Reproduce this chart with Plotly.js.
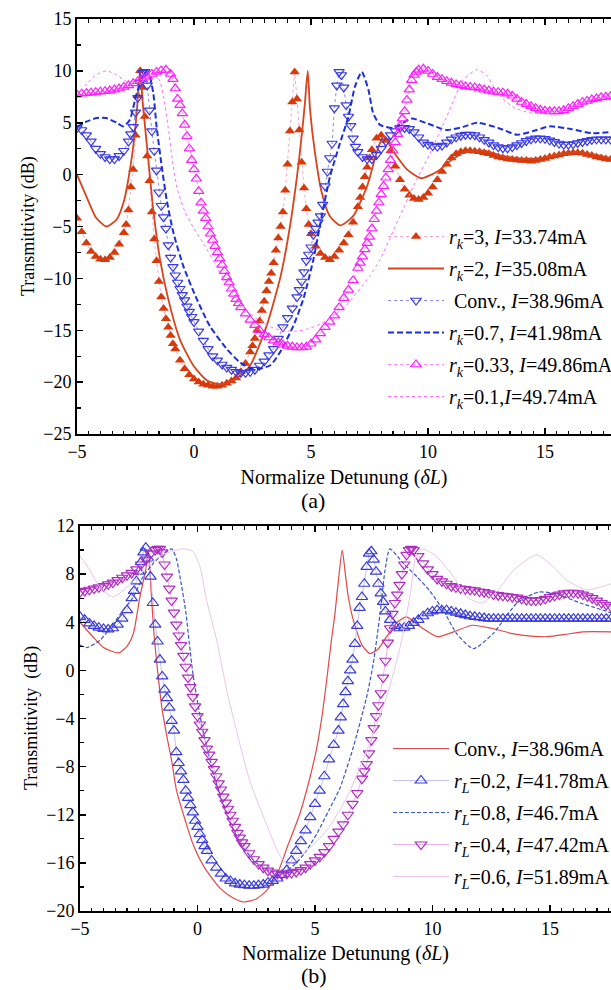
<!DOCTYPE html>
<html>
<head>
<meta charset="utf-8">
<script src="https://cdn.plot.ly/plotly-3.0.1.min.js"></script>
<style>html,body{margin:0;padding:0;background:#fff}#chart{width:611px;height:990px}</style>
</head>
<body>
<div id="chart"></div>
<script>
// ---------- Panel (a) data : [normalized detuning, transmittivity dB] ----------
const rk3 = [[-5,-4.2],[-4.8,-5.5],[-4.6,-6.6],[-4.4,-7.4],[-4.2,-7.9],[-4,-8.15],[-3.8,-8.2],[-3.6,-8.0],[-3.4,-7.5],[-3.2,-6.7],[-3,-5.6],[-2.9,-4.8],[-2.8,-3.4],[-2.7,-1.2],[-2.6,0.5],[-2.5,3.8],[-2.4,7.6],[-2.3,10.0],[-2.2,8.4],[-2.1,5.6],[-2,1.8],[-1.9,-0.6],[-1.8,-3.6],[-1.7,-6.2],[-1.6,-8.3],[-1.5,-10.3],[-1.4,-11.8],[-1.3,-12.9],[-1.2,-13.9],[-1.1,-14.7],[-1,-15.5],[-0.9,-16.3],[-0.8,-16.8],[-0.6,-17.9],[-0.4,-18.7],[-0.2,-19.3],[0,-19.7],[0.2,-20.0],[0.4,-20.2],[0.6,-20.3],[0.8,-20.4],[1,-20.4],[1.2,-20.3],[1.4,-20.1],[1.6,-19.9],[1.8,-19.6],[2,-19.0],[2.2,-18.2],[2.4,-17.1],[2.5,-16.5],[2.6,-15.8],[2.7,-15.0],[2.8,-14.1],[2.9,-13.1],[3,-12.2],[3.1,-11.2],[3.2,-10.3],[3.3,-9.5],[3.4,-8.5],[3.5,-7.3],[3.6,-6.1],[3.7,-5.0],[3.8,-3.6],[3.9,-1.5],[4,1.0],[4.1,4.2],[4.2,7.0],[4.3,9.9],[4.4,7.3],[4.5,4.3],[4.6,1.2],[4.7,-1.3],[4.8,-3.3],[4.9,-4.8],[5,-5.7],[5.2,-6.9],[5.4,-7.6],[5.6,-8.0],[5.8,-8.2],[6,-7.9],[6.2,-7.3],[6.4,-6.6],[6.6,-5.8],[6.8,-4.6],[7,-3.1],[7.1,-2.2],[7.2,-1.2],[7.3,-0.2],[7.4,0.7],[7.5,1.6],[7.6,2.4],[7.8,3.5],[8,3.8],[8.2,3.3],[8.4,2.3],[8.6,0.8],[8.8,-0.5],[9,-1.4],[9.2,-2.0],[9.4,-2.3],[9.6,-2.4],[9.8,-2.2],[10,-1.8],[10.2,-1.2],[10.4,-0.5],[10.6,0.3],[10.8,1.0],[11,1.6],[11.2,2.0],[11.4,2.2],[11.6,2.3],[11.8,2.3],[12,2.25],[12.2,2.2],[12.4,2.1],[12.6,2.0],[12.8,1.85],[13,1.7],[13.2,1.6],[13.4,1.5],[13.6,1.45],[13.8,1.4],[14,1.35],[14.2,1.35],[14.4,1.3],[14.6,1.35],[14.8,1.45],[15,1.55],[15.2,1.7],[15.4,1.8],[15.6,1.9],[15.8,2.0],[16,2.05],[16.2,2.1],[16.4,2.1],[16.6,2.05],[16.8,1.95],[17,1.85],[17.2,1.7],[17.4,1.6],[17.6,1.5],[17.8,1.45]];
const rk2 = [[-5,0],[-4.6,-2.1],[-4.2,-4.1],[-3.75,-5.0],[-3.3,-4.3],[-3.0,-2.6],[-2.75,0.3],[-2.55,3.6],[-2.42,6.8],[-2.31,10],[-2.18,6.6],[-1.95,1.4],[-1.74,-3.4],[-1.45,-8.2],[-1.1,-12.0],[-0.6,-15.9],[0,-18.5],[0.6,-19.9],[1.2,-20.2],[1.8,-19.7],[2.4,-18.4],[3.1,-14.6],[3.7,-9.8],[4.1,-5.0],[4.4,-0.2],[4.6,3.7],[4.74,6.9],[4.86,10],[4.96,6.25],[5.17,2.1],[5.46,-1.75],[5.8,-4.0],[6.25,-4.9],[6.8,-4.0],[7.4,-1.1],[7.8,2.1],[8.1,3.7],[8.65,1.8],[9.1,0.5],[9.7,-0.35],[10.4,0.3],[11.0,1.4],[11.6,2.2],[12.4,2.3],[13.2,1.8],[14.0,1.55],[14.8,1.6],[15.6,1.95],[16.4,2.2],[17.2,1.9],[17.8,1.6]];
const convA = [[-5,4.5],[-4.8,4.3],[-4.6,3.8],[-4.4,3.2],[-4.2,2.5],[-4,2.0],[-3.8,1.7],[-3.6,1.5],[-3.4,1.5],[-3.2,1.8],[-3,2.3],[-2.8,3.2],[-2.7,3.9],[-2.6,4.6],[-2.5,6.0],[-2.4,7.4],[-2.3,8.9],[-2.2,9.8],[-2.1,9.9],[-2,8.6],[-1.9,6.2],[-1.8,4.2],[-1.7,2.3],[-1.6,0.4],[-1.5,-1.7],[-1.4,-3.0],[-1.3,-4.1],[-1.2,-5.2],[-1.1,-6.8],[-1,-8.0],[-0.9,-8.9],[-0.8,-9.7],[-0.7,-10.4],[-0.6,-11.0],[-0.5,-11.6],[-0.4,-12.1],[-0.3,-12.7],[-0.2,-13.2],[-0.1,-13.7],[0,-14.2],[0.2,-15.1],[0.4,-16.0],[0.6,-16.8],[0.8,-17.5],[1,-17.9],[1.2,-18.3],[1.4,-18.6],[1.6,-18.8],[1.8,-19.0],[2,-19.1],[2.2,-19.1],[2.4,-19.0],[2.6,-18.8],[2.8,-18.4],[3,-18.0],[3.2,-17.4],[3.4,-16.8],[3.6,-15.8],[3.8,-14.7],[4,-13.8],[4.2,-12.9],[4.4,-11.8],[4.5,-11.1],[4.6,-10.3],[4.7,-9.4],[4.8,-8.3],[4.9,-7.7],[5,-7.0],[5.1,-5.8],[5.2,-5.2],[5.3,-4.6],[5.4,-4.0],[5.5,-2.9],[5.6,-1.1],[5.7,0.3],[5.8,1.6],[5.9,3.0],[6,6.4],[6.1,8.6],[6.2,9.9],[6.3,9.6],[6.4,8.4],[6.5,6.7],[6.6,5.6],[6.7,4.7],[6.8,3.5],[6.9,2.7],[7,2.2],[7.2,1.7],[7.4,1.5],[7.6,1.5],[7.8,1.9],[8,2.5],[8.2,3.2],[8.4,3.8],[8.6,4.2],[8.8,4.5],[9,4.5],[9.2,4.4],[9.4,4.1],[9.6,3.6],[9.8,3.1],[10,2.9],[10.2,2.75],[10.4,2.7],[10.6,2.8],[10.8,3.1],[11,3.4],[11.2,3.6],[11.4,3.75],[11.6,3.85],[11.8,3.85],[12,3.8],[12.2,3.6],[12.4,3.35],[12.6,3.1],[12.8,2.85],[13,2.65],[13.2,2.55],[13.4,2.55],[13.6,2.65],[13.8,2.85],[14,3.05],[14.2,3.25],[14.4,3.4],[14.6,3.5],[14.8,3.5],[15,3.45],[15.2,3.3],[15.4,3.15],[15.6,3.0],[15.8,2.9],[16,2.9],[16.2,2.95],[16.4,3.05],[16.6,3.15],[16.8,3.25],[17,3.35],[17.2,3.4],[17.4,3.4],[17.6,3.4],[17.8,3.4]];
const rk07 = [[-5,4.6],[-4.6,5.1],[-4.16,5.45],[-3.75,5.45],[-3.3,5.0],[-3.02,4.65],[-2.74,5.3],[-2.52,7.2],[-2.31,8.8],[-2.05,9.9],[-1.9,9.5],[-1.74,7.85],[-1.6,4.65],[-1.38,0.8],[-1.17,-2.4],[-0.88,-5.6],[-0.46,-8.8],[0.12,-12.0],[0.68,-14.6],[1.4,-16.8],[1.97,-18.1],[2.53,-18.75],[3.25,-18.4],[3.68,-17.1],[4.24,-14.6],[4.67,-12.0],[5.1,-8.2],[5.46,-4.0],[5.81,-0.2],[6.24,3.05],[6.6,5.6],[6.88,8.5],[7.17,9.9],[7.45,8.2],[7.66,5.9],[7.95,4.8],[8.52,4.5],[9.3,5.4],[10.0,4.9],[10.8,4.3],[11.5,4.6],[12.1,5.0],[13.0,4.5],[13.8,3.85],[14.5,4.2],[15.2,4.65],[16.1,4.4],[17.0,4.0],[17.8,4.1]];
const rk033 = [[-5,7.7],[-4.8,7.8],[-4.6,7.85],[-4.4,7.9],[-4.2,7.95],[-4,8.0],[-3.8,8.05],[-3.6,8.1],[-3.4,8.2],[-3.2,8.3],[-3,8.45],[-2.8,8.6],[-2.6,8.8],[-2.4,9.0],[-2.2,9.2],[-2,9.45],[-1.8,9.7],[-1.6,9.9],[-1.4,10.05],[-1.2,10.1],[-1,9.7],[-0.9,9.2],[-0.8,8.3],[-0.7,7.3],[-0.6,6.7],[-0.5,5.9],[-0.4,4.8],[-0.3,3.7],[-0.2,2.5],[-0.1,1.4],[0,0.5],[0.1,-0.4],[0.2,-1.6],[0.3,-2.7],[0.4,-3.5],[0.5,-4.2],[0.6,-5.0],[0.7,-5.7],[0.8,-6.3],[0.9,-6.9],[1,-7.5],[1.1,-8.1],[1.2,-8.7],[1.3,-9.3],[1.4,-9.9],[1.5,-10.4],[1.6,-11.0],[1.7,-11.5],[1.8,-12.0],[1.9,-12.4],[2,-12.8],[2.2,-13.4],[2.4,-14.0],[2.6,-14.5],[2.8,-15.0],[3,-15.4],[3.2,-15.7],[3.4,-16.0],[3.6,-16.2],[3.8,-16.4],[4,-16.5],[4.2,-16.6],[4.4,-16.65],[4.6,-16.65],[4.8,-16.6],[5,-16.3],[5.2,-15.9],[5.4,-15.3],[5.6,-14.7],[5.8,-14.2],[6,-13.6],[6.2,-12.8],[6.4,-11.9],[6.6,-11.1],[6.8,-10.2],[7,-9.0],[7.1,-8.5],[7.2,-7.9],[7.3,-7.2],[7.4,-6.6],[7.5,-6.0],[7.6,-5.2],[7.7,-4.3],[7.8,-3.5],[7.9,-2.7],[8,-1.9],[8.1,-1.1],[8.2,-0.3],[8.3,0.5],[8.4,1.4],[8.5,2.3],[8.6,3.1],[8.7,3.9],[8.8,4.7],[8.9,5.4],[9,6.1],[9.1,7.2],[9.2,8.2],[9.3,9.1],[9.4,9.6],[9.5,9.9],[9.6,10.1],[9.8,10.2],[10,10.0],[10.2,9.7],[10.4,9.4],[10.6,9.2],[10.8,9.0],[11,8.85],[11.2,8.7],[11.4,8.6],[11.6,8.5],[11.8,8.45],[12,8.4],[12.2,8.3],[12.4,8.2],[12.6,8.1],[12.8,8.0],[13,7.95],[13.2,7.9],[13.4,7.8],[13.6,7.6],[13.8,7.3],[14,7.0],[14.2,6.8],[14.4,6.6],[14.6,6.4],[14.8,6.25],[15,6.15],[15.2,6.1],[15.4,6.1],[15.6,6.1],[15.8,6.2],[16,6.4],[16.2,6.6],[16.4,6.8],[16.6,7.0],[16.8,7.1],[17,7.25],[17.2,7.35],[17.4,7.45],[17.6,7.5],[17.8,7.55]];
const rk01 = [[-5,7.6],[-4.6,8.7],[-4.2,9.6],[-3.73,10.0],[-3.3,9.6],[-2.9,9.0],[-2.5,8.9],[-2.1,9.2],[-1.8,9.5],[-1.5,9.2],[-1.3,7.5],[-1.1,4.5],[-0.9,1.0],[-0.7,-1.5],[-0.4,-3.5],[0,-5.2],[0.4,-6.6],[1.0,-9.0],[1.54,-11.1],[2.1,-12.7],[2.68,-13.9],[3.2,-14.6],[3.7,-15.0],[4.3,-15.1],[4.82,-14.9],[5.4,-14.4],[5.96,-13.6],[6.5,-12.6],[6.95,-11.4],[7.5,-9.8],[7.95,-8.2],[8.4,-6.0],[8.8,-4.0],[9.4,-1.0],[10.1,2.1],[10.8,5.6],[11.5,9.1],[12.08,10.1],[12.5,9.6],[12.79,8.5],[13.2,7.3],[13.65,6.5],[14.1,6.1],[14.5,5.9],[15.0,5.9],[15.5,6.0],[16.0,6.3],[16.5,6.8],[17.0,7.2],[17.8,7.5]];

// ---------- Panel (b) data ----------
const convB = [[-5,4.0],[-4.5,2.9],[-4.0,1.9],[-3.37,1.45],[-3.0,2.0],[-2.73,3.06],[-2.45,6.1],[-2.2,8.4],[-2.09,10.0],[-1.97,6.5],[-1.85,3.0],[-1.7,0],[-1.5,-3.3],[-1.3,-5.5],[-1.1,-7.5],[-0.89,-10.0],[-0.5,-12.6],[-0.18,-14.5],[0.3,-16.4],[0.96,-18.1],[1.5,-18.9],[1.98,-19.25],[2.5,-19.0],[2.94,-18.3],[3.4,-16.9],[3.8,-14.8],[4.36,-11.9],[4.8,-8.8],[5.07,-6.5],[5.3,-3.8],[5.5,-0.8],[5.7,2.5],[5.85,4.7],[6.0,7.5],[6.16,10.0],[6.3,7.9],[6.42,6.1],[6.6,4.4],[6.77,3.3],[7.0,2.1],[7.34,1.4],[7.7,1.8],[8.05,2.8],[8.5,4.0],[8.9,4.45],[9.5,3.6],[10.2,2.8],[10.9,3.2],[11.7,3.75],[12.5,3.5],[13.4,3.06],[14.2,2.85],[14.9,2.8],[15.7,3.0],[16.4,3.2],[17.6,3.2]];
const rL02 = [[-5,4.45],[-4.8,4.2],[-4.6,3.9],[-4.4,3.7],[-4.2,3.55],[-4,3.45],[-3.8,3.4],[-3.6,3.5],[-3.4,3.8],[-3.2,4.3],[-3,5.0],[-2.8,6.0],[-2.7,6.6],[-2.6,7.4],[-2.5,8.2],[-2.4,9.0],[-2.3,9.8],[-2.2,10.2],[-2.1,9.3],[-2,7.8],[-1.9,5.6],[-1.8,3.8],[-1.7,2.4],[-1.6,0.9],[-1.5,-0.5],[-1.4,-1.6],[-1.3,-2.3],[-1.2,-3.1],[-1.1,-4.2],[-1,-5.0],[-0.9,-6.8],[-0.8,-7.7],[-0.7,-8.4],[-0.6,-9.1],[-0.5,-10.0],[-0.4,-10.6],[-0.3,-11.2],[-0.2,-11.8],[-0.1,-12.5],[0,-13.0],[0.1,-13.6],[0.2,-14.1],[0.3,-14.6],[0.4,-15.0],[0.6,-15.8],[0.8,-16.4],[1,-16.9],[1.2,-17.3],[1.4,-17.5],[1.6,-17.7],[1.8,-17.8],[2,-17.85],[2.2,-17.9],[2.4,-17.9],[2.6,-17.85],[2.8,-17.8],[3,-17.65],[3.2,-17.5],[3.4,-17.3],[3.6,-17.0],[3.8,-16.6],[4,-15.8],[4.2,-15.0],[4.4,-14.2],[4.6,-13.3],[4.8,-12.2],[5,-11.1],[5.2,-10.0],[5.4,-8.8],[5.6,-7.4],[5.8,-6.2],[6,-5.0],[6.1,-3.9],[6.2,-2.8],[6.3,-1.8],[6.4,-0.9],[6.5,0],[6.6,0.9],[6.7,2.2],[6.8,3.7],[6.9,5.2],[7,6.1],[7.1,7.2],[7.2,8.6],[7.3,9.7],[7.4,9.9],[7.5,9.2],[7.6,8.2],[7.7,7.2],[7.8,6.4],[7.9,5.7],[8,4.9],[8.2,4.2],[8.4,3.7],[8.6,3.5],[8.8,3.55],[9,3.7],[9.2,3.95],[9.4,4.2],[9.6,4.5],[9.8,4.75],[10,4.9],[10.2,5.0],[10.4,5.0],[10.6,5.0],[10.8,4.9],[11,4.8],[11.2,4.7],[11.4,4.6],[11.6,4.5],[11.8,4.45],[12,4.4],[12.2,4.35],[12.4,4.3],[12.6,4.3],[12.8,4.3],[13,4.3],[13.2,4.3],[13.4,4.3],[13.6,4.3],[13.8,4.3],[14,4.3],[14.2,4.3],[14.4,4.3],[14.6,4.3],[14.8,4.3],[15,4.3],[15.2,4.3],[15.4,4.3],[15.6,4.3],[15.8,4.3],[16,4.3],[16.2,4.3],[16.4,4.3],[16.6,4.3],[16.8,4.3],[17,4.3],[17.2,4.3],[17.4,4.3],[17.6,4.3]];
const rL08 = [[-5,2.1],[-4.7,1.9],[-4.15,2.5],[-3.72,3.5],[-3.16,5.0],[-2.73,6.1],[-2.31,7.8],[-1.88,8.9],[-1.46,9.7],[-1.1,10.1],[-0.9,9.3],[-0.7,7.3],[-0.5,4.9],[-0.35,2.3],[-0.2,-0.2],[0,-2.6],[0.2,-4.7],[0.45,-6.8],[0.7,-8.7],[1.0,-10.6],[1.4,-12.7],[1.9,-14.6],[2.5,-16.0],[3.1,-16.7],[3.6,-16.8],[4.1,-16.2],[4.6,-15.1],[5.1,-13.5],[5.6,-11.6],[6.06,-9.8],[6.63,-6.4],[7.2,-2.2],[7.48,0.55],[7.77,4.7],[7.98,8.3],[8.19,10.1],[8.76,8.9],[9.33,7.8],[9.89,6.6],[10.46,5.0],[11.03,3.06],[11.74,1.8],[12.6,3.1],[13.6,5.6],[14.5,6.5],[15.2,6.4],[16.3,5.6],[17.6,4.8]];
const rL04 = [[-5,6.5],[-4.8,6.6],[-4.6,6.7],[-4.4,6.8],[-4.2,6.9],[-4,7.0],[-3.8,7.15],[-3.6,7.3],[-3.4,7.5],[-3.2,7.7],[-3,7.9],[-2.8,8.1],[-2.6,8.4],[-2.4,8.8],[-2.2,9.2],[-2,9.7],[-1.8,10.0],[-1.7,10.1],[-1.6,10.1],[-1.5,9.8],[-1.4,8.8],[-1.3,7.8],[-1.2,6.8],[-1.1,5.8],[-1,4.8],[-0.9,3.8],[-0.8,2.9],[-0.7,2.1],[-0.6,1.2],[-0.5,0.3],[-0.4,-0.6],[-0.3,-1.4],[-0.2,-2.2],[-0.1,-3.0],[0,-3.8],[0.1,-4.5],[0.2,-5.1],[0.3,-5.8],[0.4,-6.5],[0.5,-7.0],[0.6,-7.6],[0.7,-8.2],[0.8,-8.8],[0.9,-9.4],[1,-9.9],[1.1,-10.5],[1.2,-11.0],[1.3,-11.5],[1.4,-12.0],[1.5,-12.5],[1.6,-13.0],[1.7,-13.5],[1.8,-13.9],[1.9,-14.3],[2,-14.6],[2.2,-15.2],[2.4,-15.7],[2.6,-16.1],[2.8,-16.4],[3,-16.65],[3.2,-16.8],[3.4,-16.9],[3.6,-16.95],[3.8,-16.9],[4,-16.85],[4.2,-16.75],[4.4,-16.6],[4.6,-16.4],[4.8,-16.1],[5,-15.8],[5.2,-15.5],[5.4,-15.1],[5.6,-14.6],[5.8,-14.0],[6,-13.4],[6.2,-12.8],[6.4,-12.0],[6.6,-11.1],[6.8,-10.2],[7,-9.0],[7.1,-8.4],[7.2,-7.8],[7.3,-6.9],[7.4,-5.8],[7.5,-4.8],[7.6,-3.8],[7.7,-2.9],[7.8,-1.9],[7.9,-0.6],[8,0.8],[8.1,2.3],[8.2,3.5],[8.3,4.7],[8.4,5.6],[8.5,6.3],[8.6,7.1],[8.7,8.0],[8.8,8.8],[8.9,9.6],[9,10.0],[9.1,10.1],[9.2,10.0],[9.4,9.5],[9.6,8.9],[9.8,8.4],[10,8.0],[10.2,7.6],[10.4,7.4],[10.6,7.2],[10.8,7.0],[11,6.9],[11.2,6.8],[11.4,6.75],[11.6,6.7],[11.8,6.65],[12,6.55],[12.2,6.5],[12.4,6.4],[12.6,6.3],[12.8,6.25],[13,6.2],[13.2,6.15],[13.4,6.1],[13.6,6.05],[13.8,5.95],[14,5.85],[14.2,5.8],[14.4,5.8],[14.6,5.85],[14.8,5.95],[15,6.1],[15.2,6.2],[15.4,6.3],[15.6,6.4],[15.8,6.45],[16,6.45],[16.2,6.4],[16.4,6.3],[16.6,6.15],[16.8,6.0],[17,5.8],[17.2,5.6],[17.4,5.45],[17.6,5.3]];
const rL06 = [[-5,9.5],[-4.6,8.4],[-4.15,6.9],[-3.6,6.1],[-3.0,6.9],[-2.5,7.9],[-2.0,8.9],[-1.5,9.6],[-1.0,9.95],[-0.6,10.1],[-0.2,9.9],[0.11,8.6],[0.39,5.8],[0.82,2.5],[1.24,-1.6],[1.67,-5.1],[2.23,-9.2],[2.94,-12.8],[3.51,-15.4],[3.85,-16.1],[4.65,-15.0],[5.5,-13.3],[6.35,-10.6],[7.2,-6.7],[8.05,-2.2],[8.62,1.9],[9.04,6.1],[9.33,9.7],[9.6,10.1],[10.18,9.45],[10.89,7.8],[11.46,6.1],[12.1,5.6],[12.8,6.7],[13.44,8.3],[14.43,9.6],[15.1,8.7],[15.71,7.5],[16.56,6.7],[17.6,7.2]];

// ---------- legend labels / tick values ----------
const namesA = ['<i>r</i><sub><i>k</i></sub>=3, <i>I</i>=33.74mA','<i>r</i><sub><i>k</i></sub>=2, <i>I</i>=35.08mA',' Conv., <i>I</i>=38.96mA','<i>r</i><sub><i>k</i></sub>=0.7, <i>I</i>=41.98mA','<i>r</i><sub><i>k</i></sub>=0.33, <i>I</i>=49.86mA','<i>r</i><sub><i>k</i></sub>=0.1,<i>I</i>=49.74mA'];
const namesB = ['Conv., <i>I</i>=38.96mA','<i>r</i><sub><i>L</i></sub>=0.2, <i>I</i>=41.78mA','<i>r</i><sub><i>L</i></sub>=0.8, <i>I</i>=46.7mA','<i>r</i><sub><i>L</i></sub>=0.4, <i>I</i>=47.42mA','<i>r</i><sub><i>L</i></sub>=0.6, <i>I</i>=51.89mA'];
const xTicks = [-5,0,5,10,15];
const yTicksA = [-25,-20,-15,-10,-5,0,5,10,15];
const yTicksB = [-20,-16,-12,-8,-4,0,4,8,12];

const X = a => a.map(p => p[0]);
const Y = a => a.map(p => p[1]);
const FONT = 'Liberation Serif, Times New Roman, serif';

const traces = [
  {x:X(rk3),y:Y(rk3),name:namesA[0],mode:'lines+markers',legendgroup:'a1',
   line:{color:'#f4a6cf',width:1,dash:'dot'},marker:{symbol:'triangle-up',size:9,color:'#d63a0c'}},
  {x:X(rk2),y:Y(rk2),name:namesA[1],mode:'lines',legendgroup:'a2',
   line:{color:'#d8441c',width:1.8,shape:'spline',smoothing:0.6}},
  {x:X(convA),y:Y(convA),name:namesA[2],mode:'lines+markers',legendgroup:'a3',
   line:{color:'#8a8af2',width:1,dash:'dot'},marker:{symbol:'triangle-down-open',size:9,color:'#3a3ae8',line:{width:1.2,color:'#3a3ae8'}}},
  {x:X(rk07),y:Y(rk07),name:namesA[3],mode:'lines',legendgroup:'a4',
   line:{color:'#1c2ee0',width:2,dash:'6px,3px',shape:'spline',smoothing:0.6}},
  {x:X(rk033),y:Y(rk033),name:namesA[4],mode:'lines+markers',legendgroup:'a5',
   line:{color:'#ff8cff',width:1,dash:'dot'},marker:{symbol:'triangle-up-open',size:9,color:'#ff1eff',line:{width:1.2,color:'#ff1eff'}}},
  {x:X(rk01),y:Y(rk01),name:namesA[5],mode:'lines',legendgroup:'a6',
   line:{color:'#ff6cff',width:1,dash:'dot',shape:'spline',smoothing:0.6}},

  {x:X(convB),y:Y(convB),name:namesB[0],mode:'lines',xaxis:'x2',yaxis:'y2',legend:'legend2',legendgroup:'b1',
   line:{color:'#e34848',width:1.2,shape:'spline',smoothing:0.6}},
  {x:X(rL02),y:Y(rL02),name:namesB[1],mode:'lines+markers',xaxis:'x2',yaxis:'y2',legend:'legend2',legendgroup:'b2',
   line:{color:'#b4b4f2',width:0.8},marker:{symbol:'triangle-up-open',size:10,color:'#3b3bdc',line:{width:1.2,color:'#3b3bdc'}}},
  {x:X(rL08),y:Y(rL08),name:namesB[2],mode:'lines',xaxis:'x2',yaxis:'y2',legend:'legend2',legendgroup:'b3',
   line:{color:'#3b55c8',width:1.2,dash:'4px,2px',shape:'spline',smoothing:0.6}},
  {x:X(rL04),y:Y(rL04),name:namesB[3],mode:'lines+markers',xaxis:'x2',yaxis:'y2',legend:'legend2',legendgroup:'b4',
   line:{color:'#e4a0e4',width:0.8},marker:{symbol:'triangle-down-open',size:10,color:'#b02cc2',line:{width:1.2,color:'#b02cc2'}}},
  {x:X(rL06),y:Y(rL06),name:namesB[4],mode:'lines',xaxis:'x2',yaxis:'y2',legend:'legend2',legendgroup:'b5',
   line:{color:'#e8c8e8',width:1,shape:'spline',smoothing:0.6}}
];

const axBase = {showline:true,linecolor:'#000',linewidth:2,ticks:'inside',ticklen:6,tickwidth:1.5,tickcolor:'#000',
  showgrid:false,zeroline:false,tickfont:{family:FONT,size:18,color:'#000'},automargin:false};

const layout = {
  width:611,height:990,margin:{l:0,r:0,t:0,b:0,autoexpand:false},paper_bgcolor:'#fff',plot_bgcolor:'rgba(0,0,0,0)',
  font:{family:FONT,color:'#000'},showlegend:true,
  xaxis:Object.assign({},axBase,{domain:[77/611,1],range:[-5,17.82],anchor:'y',tickvals:xTicks,mirror:'ticks',
    minor:{ticks:'inside',dtick:0.5,tick0:0,ticklen:3.5,tickwidth:1.2,tickcolor:'#000'},
    title:{text:'Normalize Detunung (<i>δL</i>)',font:{family:FONT,size:20},standoff:9}}),
  yaxis:Object.assign({},axBase,{domain:[1-434/990,1-19/990],range:[-25,15],anchor:'x',tickvals:yTicksA,
    minor:{ticks:'inside',dtick:2.5,tick0:0,ticklen:3.5,tickwidth:1.2,tickcolor:'#000'}}),
  xaxis2:Object.assign({},axBase,{domain:[80/611,1],range:[-5,17.6],anchor:'y2',tickvals:xTicks,mirror:'ticks',
    minor:{ticks:'inside',dtick:0.5,tick0:0,ticklen:3.5,tickwidth:1.2,tickcolor:'#000'},
    title:{text:'Normalize Detunung (<i>δL</i>)',font:{family:FONT,size:20},standoff:8}}),
  yaxis2:Object.assign({},axBase,{domain:[1-911/990,1-526/990],range:[-20,12],anchor:'x2',tickvals:yTicksB,
    minor:{ticks:'inside',dtick:2,tick0:0,ticklen:3.5,tickwidth:1.2,tickcolor:'#000'}}),
  legend:{x:383/611,xanchor:'left',y:1-217/990,yanchor:'top',bgcolor:'rgba(0,0,0,0)',borderwidth:0,
    font:{family:FONT,size:20,color:'#000'},itemwidth:56,tracegroupgap:3,traceorder:'grouped'},
  legend2:{x:388/611,xanchor:'left',y:1-729/990,yanchor:'top',bgcolor:'rgba(0,0,0,0)',borderwidth:0,
    font:{family:FONT,size:20,color:'#000'},itemwidth:56,tracegroupgap:3,traceorder:'grouped'},
  annotations:[
    {text:'Transmittivity (dB)',xref:'paper',yref:'paper',x:28/611,y:1-226/990,xanchor:'center',yanchor:'middle',textangle:-90,showarrow:false,font:{family:FONT,size:18,color:'#000'}},
    {text:'Transmittivity  (dB)',xref:'paper',yref:'paper',x:31/611,y:1-718/990,xanchor:'center',yanchor:'middle',textangle:-90,showarrow:false,font:{family:FONT,size:18,color:'#000'}},
    {text:'(a)',xref:'paper',yref:'paper',x:313/611,y:1-500/990,xanchor:'center',yanchor:'middle',showarrow:false,font:{family:FONT,size:22,color:'#000'}},
    {text:'(b)',xref:'paper',yref:'paper',x:314/611,y:1-975/990,xanchor:'center',yanchor:'middle',showarrow:false,font:{family:FONT,size:22,color:'#000'}}
  ]
};

Plotly.newPlot('chart',traces,layout,{displayModeBar:false,staticPlot:true});
</script>
</body>
</html>
